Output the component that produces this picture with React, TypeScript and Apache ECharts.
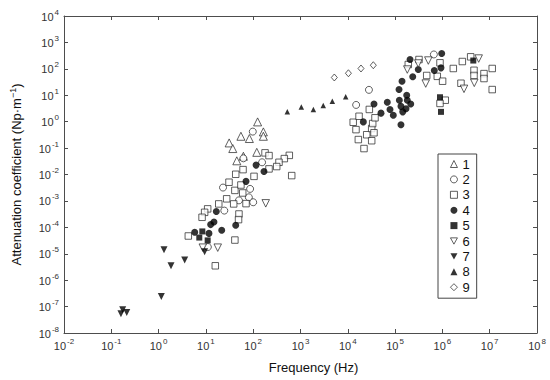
import React, { useEffect, useRef } from "react";
import * as echarts from "echarts";

// Frequency (Hz) and attenuation coefficient (Np/m), per data set
const freq1 = [124, 55, 83, 164, 164, 31, 37, 45, 62, 119];
const atten1 = [0.98, 0.28, 0.23, 0.41, 0.28, 0.157, 0.096, 0.033, 0.049, 0.069];

const freq2 = [98, 62, 154, 23, 86, 81, 50, 100, 24.5, 11, 28000, 15000, 660000];
const atten2 = [0.42, 0.041, 0.029, 0.0032, 0.00285, 0.00137, 0.00105, 0.00089, 0.00043, 1.8e-5, 16, 4.3, 350];

const freq3 = [
  178, 216, 580, 455, 351, 314, 216, 61, 652, 104,
  42.7, 30.8, 41, 55, 60, 27.5, 38.7, 70.5, 18.7, 10.9,
  9.4, 8.3, 4.25, 50, 49, 41, 15.8,
  13000, 14900, 16700, 22000, 25100, 32000, 32000, 33600, 37600, 28500,
  17300, 35800,
  190000, 320000, 466000, 780000, 1.01e6, 890000, 1.15e6, 890000,
  1.7e6, 2.64e6, 3.96e6, 4.66e6, 4.66e6, 7.57e6, 7.57e6, 1.13e7, 1.13e7, 2.47e6,
];
const atten3 = [
  0.066, 0.052, 0.053, 0.04, 0.029, 0.02, 0.0163, 0.0153, 0.0091, 0.0085,
  0.0102, 0.0051, 0.0025, 0.004, 0.002, 0.0012, 0.00077, 0.00079, 0.00077, 0.0005,
  0.00037, 0.00024, 4.7e-5, 0.00032, 0.000196, 3.3e-5, 3.5e-6,
  0.95, 0.5, 0.21, 0.096, 0.32, 0.19, 0.55, 0.85, 1.4, 2.9,
  1.6, 0.38,
  146, 225, 56, 52, 34, 169, 6.5, 4.9,
  103, 189, 285, 88, 56, 66, 43, 103, 16.4, 28.5,
];

const freq4 = [
  115, 169, 70.5, 16.6, 14.8, 12.6, 21.6, 5.8, 11.6, 42.7,
  21300, 35800, 50300, 68400, 78000, 91600, 121000, 140000, 123000, 133000,
  145000, 176000, 181000, 214000, 170000, 133000, 236000, 207000, 309000, 674000,
  933000, 967000,
];
const atten4 = [
  0.0227, 0.0129, 0.0055, 0.0004, 0.00016, 0.000127, 7.7e-5, 6.5e-5, 5.9e-5, 0.00012,
  0.98, 4.7, 2.1, 5.4, 2.9, 1.75, 16.4, 34, 6.5, 3.8,
  2.35, 10, 6.5, 4.7, 3.1, 0.76, 50, 225, 94, 86,
  109, 380,
];

const freq5 = [8.4, 7.25, 10.9, 890000, 933000, 4.5e6];
const atten5 = [7e-5, 4.1e-5, 3.2e-5, 8.4, 2.35, 206];

const freq6 = [184, 17.8, 8.6, 181000, 309000, 504000, 444000, 2.86e6, 4.72e6, 5.85e6];
const atten6 = [0.00081, 1.7e-5, 1.7e-5, 94, 159, 206, 27.7, 17.5, 29.5, 245];

const freq7 = [9.4, 1.3, 1.83, 3.56, 1.14, 0.174, 0.16, 0.212];
const atten7 = [1.2e-5, 1.43e-5, 3.5e-6, 5.8e-6, 2.4e-7, 7.6e-8, 5.4e-8, 6e-8];

const freq8 = [526, 1040, 1870, 3030, 4700, 9030];
const atten8 = [2.35, 3.6, 2.9, 4.07, 5.9, 8.7];

const freq9 = [5190, 10300, 19000, 34600];
const atten9 = [47, 68, 103, 137];

const seriesNames = ["1", "2", "3", "4", "5", "6", "7", "8", "9"];

const X_MIN = 1e-2;
const X_MAX = 1e8;
const Y_MIN = 1e-8;
const Y_MAX = 1e4;

const INK = "#000000";
const AXIS = "#4d4d4d";
const FONT = "Liberation Sans, Arial, Helvetica, sans-serif";

const DOWN_TRI = "path://M0,0 L10,0 L5,9 Z";

function pairs(xs: number[], ys: number[]) {
  return xs.map((x, i) => [x, ys[i]]);
}

const powLabel = (v: number) => {
  const e = Math.round(Math.log10(v));
  return `{b|10}{s|${e}}`;
};

const richTick = {
  b: { fontSize: 11, color: "#333", fontFamily: FONT, verticalAlign: "bottom", lineHeight: 12 },
  s: { fontSize: 8, color: "#333", fontFamily: FONT, verticalAlign: "bottom", padding: [0, 0, 6, 1], lineHeight: 8 },
};

export default function App() {
  const ref = useRef<HTMLDivElement>(null);

  useEffect(() => {
    if (!ref.current) return;
    const chart = echarts.init(ref.current, null, { renderer: "svg" });

    const open = { color: "#ffffff", borderColor: "#222222", borderWidth: 0.9 };
    const filled = { color: INK, borderColor: INK, borderWidth: 0 };

    const defs: any[] = [
      { data: pairs(freq1, atten1), symbol: "triangle", size: 8, style: open, rot: 0, icon: "triangle" },
      { data: pairs(freq2, atten2), symbol: "circle", size: 7, style: open, rot: 0, icon: "circle" },
      { data: pairs(freq3, atten3), symbol: "rect", size: 6.5, style: open, rot: 0, icon: "rect" },
      { data: pairs(freq4, atten4), symbol: "circle", size: 7, style: filled, rot: 0, icon: "circle" },
      { data: pairs(freq5, atten5), symbol: "rect", size: 6, style: filled, rot: 0, icon: "rect" },
      { data: pairs(freq6, atten6), symbol: "triangle", size: 7.5, style: open, rot: 180, icon: DOWN_TRI },
      { data: pairs(freq7, atten7), symbol: "triangle", size: 7, style: filled, rot: 180, icon: DOWN_TRI },
      { data: pairs(freq8, atten8), symbol: "triangle", size: 5.5, style: filled, rot: 0, icon: "triangle" },
      { data: pairs(freq9, atten9), symbol: "diamond", size: [6, 7], style: open, rot: 0, icon: "diamond" },
    ];

    const series = defs.map((d, i) => ({
      name: seriesNames[i],
      type: "scatter",
      xAxisIndex: 0,
      yAxisIndex: 0,
      data: d.data,
      symbol: d.symbol,
      symbolSize: d.size,
      symbolRotate: d.rot,
      itemStyle: d.style,
      emphasis: { disabled: true },
    }));

    const legendData = defs.map((d, i) => ({
      name: seriesNames[i],
      icon: d.icon,
      itemStyle: d.style,
    }));

    const axisCommon = {
      type: "log",
      logBase: 10,
      interval: 1,
      axisLine: { show: true, onZero: false, lineStyle: { color: AXIS, width: 1 } },
      axisTick: { show: true, inside: true, length: 4, lineStyle: { color: AXIS, width: 1 } },
      splitLine: { show: false },
      minorTick: { show: false },
    };

    chart.setOption({
      animation: false,
      backgroundColor: "#ffffff",
      textStyle: { fontFamily: FONT },
      grid: { left: 64, right: 13, top: 16, bottom: 47, containLabel: false },
      legend: {
        orient: "vertical",
        left: 438,
        top: 154,
        data: legendData,
        itemWidth: 7,
        itemHeight: 7,
        itemGap: 1.4,
        padding: [3, 7, 4, 12],
        borderColor: "#444",
        borderWidth: 1,
        backgroundColor: "#ffffff",
        selectedMode: false,
        textStyle: { fontSize: 13, color: "#111", fontFamily: FONT, lineHeight: 14, padding: [0, 0, 0, 0] },
      },
      xAxis: [
        {
          ...axisCommon,
          position: "bottom",
          min: X_MIN,
          max: X_MAX,
          name: "Frequency (Hz)",
          nameLocation: "middle",
          nameGap: 28,
          nameTextStyle: { fontSize: 13, color: "#111", fontFamily: FONT, padding: [0, 0, 0, 26] },
          axisLabel: { show: true, margin: 6, formatter: powLabel, rich: richTick },
        },
        {
          ...axisCommon,
          position: "top",
          min: X_MIN,
          max: X_MAX,
          axisLabel: { show: false },
        },
      ],
      yAxis: [
        {
          ...axisCommon,
          position: "left",
          min: Y_MIN,
          max: Y_MAX,
          name: "Attenuation coefficient (Np·m{s|−1})",
          nameLocation: "middle",
          nameGap: 40,
          nameRotate: 90,
          nameTextStyle: {
            fontSize: 13,
            color: "#111",
            fontFamily: FONT,
            rich: {
              s: { fontSize: 9, color: "#111", fontFamily: FONT, verticalAlign: "bottom", padding: [0, 0, 7, 0] },
            },
          },
          axisLabel: { show: true, margin: 5, formatter: powLabel, rich: richTick },
        },
        {
          ...axisCommon,
          position: "right",
          min: Y_MIN,
          max: Y_MAX,
          axisLabel: { show: false },
        },
      ],
      series,
    });

    return () => chart.dispose();
  }, []);

  return (
    <div
      ref={ref}
      style={{ position: "absolute", left: 0, top: 0, width: 550, height: 380, background: "#fff" }}
    />
  );
}
